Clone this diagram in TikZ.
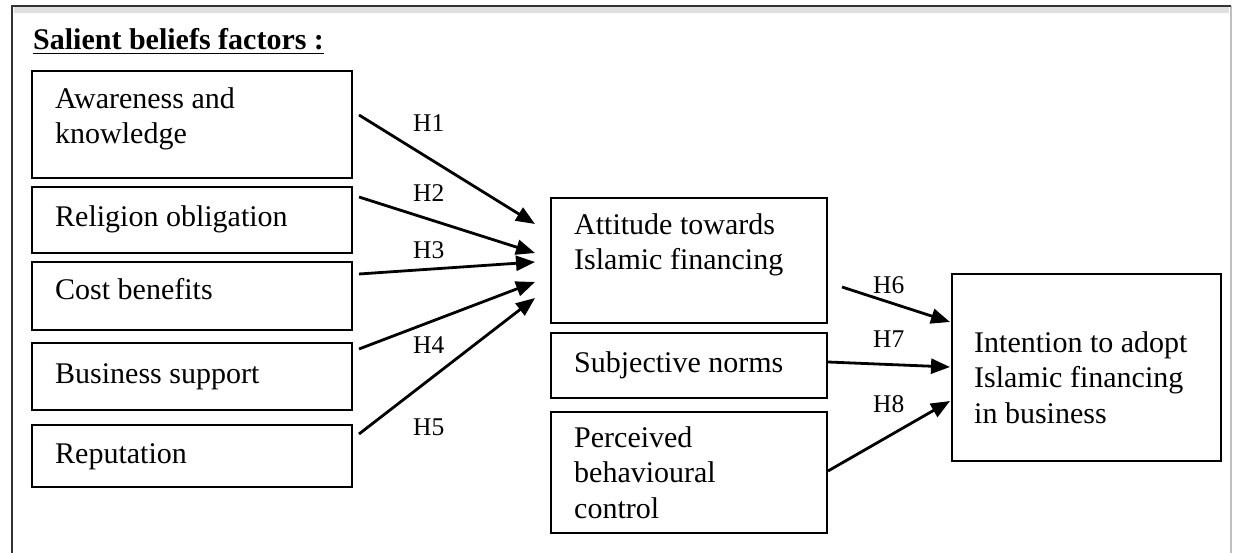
\documentclass[tikz,border=0pt]{standalone}
\usepackage{fontspec}
\setmainfont{Liberation Serif}
\usetikzlibrary{arrows.meta,calc}
\tikzset{
  box/.style={draw=black, line width=2.6pt, rectangle, inner sep=0pt, outer sep=0pt},
  txt/.style={anchor=base west, inner sep=0pt, align=left, font=\fontsize{30}{35.5}\selectfont},
  hlab/.style={anchor=base west, inner sep=0pt, font=\fontsize{25.5}{30}\selectfont},
  link/.style={line width=2.8pt, -{Triangle[length=19pt,width=15pt]}}
}
\begin{document}
\begin{tikzpicture}[x=1pt,y=-1pt]
\useasboundingbox (0,0) rectangle (1237,553);
\fill[white] (0,0) rectangle (1237,553);
% outer frame
\draw[line width=6pt, black!12] (14,10) -- (1229,10);
\draw[line width=2pt, black!25] (1231,6) -- (1231,560);
\draw[line width=2pt, black!80] (12,560) -- (12,6) -- (1231,6);
% title
\node[anchor=base west, inner sep=0pt, font=\fontsize{30}{35.5}\selectfont\bfseries] (title) at (33,50) {Salient beliefs factors :};
\draw[line width=1.8pt] ($(title.base west)+(0,3.5)$) -- ($(title.base east)+(0,3.5)$);
% left boxes
\node[box, minimum width=320pt, minimum height=107pt] (aw) at (192,124.5) {};
\node[box, minimum width=320pt, minimum height=66pt] (re) at (192,220) {};
\node[box, minimum width=320pt, minimum height=68pt] (co) at (192,296) {};
\node[box, minimum width=320pt, minimum height=67pt] (bu) at (192,376.5) {};
\node[box, minimum width=320pt, minimum height=62pt] (rp) at (192,456) {};
% middle boxes
\node[box, minimum width=276pt, minimum height=125pt] (atb) at (689,260.5) {};
\node[box, minimum width=276pt, minimum height=65pt] (snb) at (689,365.5) {};
\node[box, minimum width=276pt, minimum height=121pt] (pbb) at (689,472.5) {};
% right box
\node[box, minimum width=269pt, minimum height=187pt] (inb) at (1086.5,367.5) {};
% texts (multi-line nodes: base = last line)
\node[txt] (awt) at (55,144) {Awareness and\\knowledge};
\node[txt] (ret) at (55,227) {Religion obligation};
\node[txt] (cot) at (55,300) {Cost benefits};
\node[txt] (but) at (55,383) {Business support};
\node[txt] (rpt) at (55,463) {Reputation};
\node[txt] (att) at (574,270) {Attitude towards\\Islamic financing};
\node[txt] (snt) at (574,372) {Subjective norms};
\node[txt] (pbt) at (574,518) {Perceived\\behavioural\\control};
\node[txt] (intx) at (974,423) {Intention to adopt\\Islamic financing\\in business};
% connectors
\draw[link] ($(aw.north east)+(7,44)$) -- ($(atb.north west)+(-16,26)$);
\draw[link] ($(re.north east)+(7,10)$) -- ($(atb.north west)+(-16,55)$);
\draw[link] ($(co.north east)+(7,12)$) -- ($(atb.north west)+(-16,64)$);
\draw[link] ($(bu.north east)+(7,6)$) -- ($(atb.north west)+(-16,84)$);
\draw[link] ($(rp.north east)+(7,9)$) -- ($(atb.north west)+(-16,100)$);
\draw[link] ($(atb.south east)+(15,-36)$) -- ($(inb.north west)+(-2,48)$);
\draw[link] ($(snb.north east)+(1,29)$) -- ($(inb.north west)+(-2,93)$);
\draw[link] ($(pbb.north east)+(1,59)$) -- ($(inb.north west)+(-2,127)$);
% labels
\node[hlab] (h1) at (413,132) {H1};
\node[hlab] (h2) at (413,202) {H2};
\node[hlab] (h3) at (413,259) {H3};
\node[hlab] (h4) at (413,353) {H4};
\node[hlab] (h5) at (413,435) {H5};
\node[hlab] (h6) at (873,294) {H6};
\node[hlab] (h7) at (873,348) {H7};
\node[hlab] (h8) at (873,412) {H8};
\end{tikzpicture}
\end{document}
